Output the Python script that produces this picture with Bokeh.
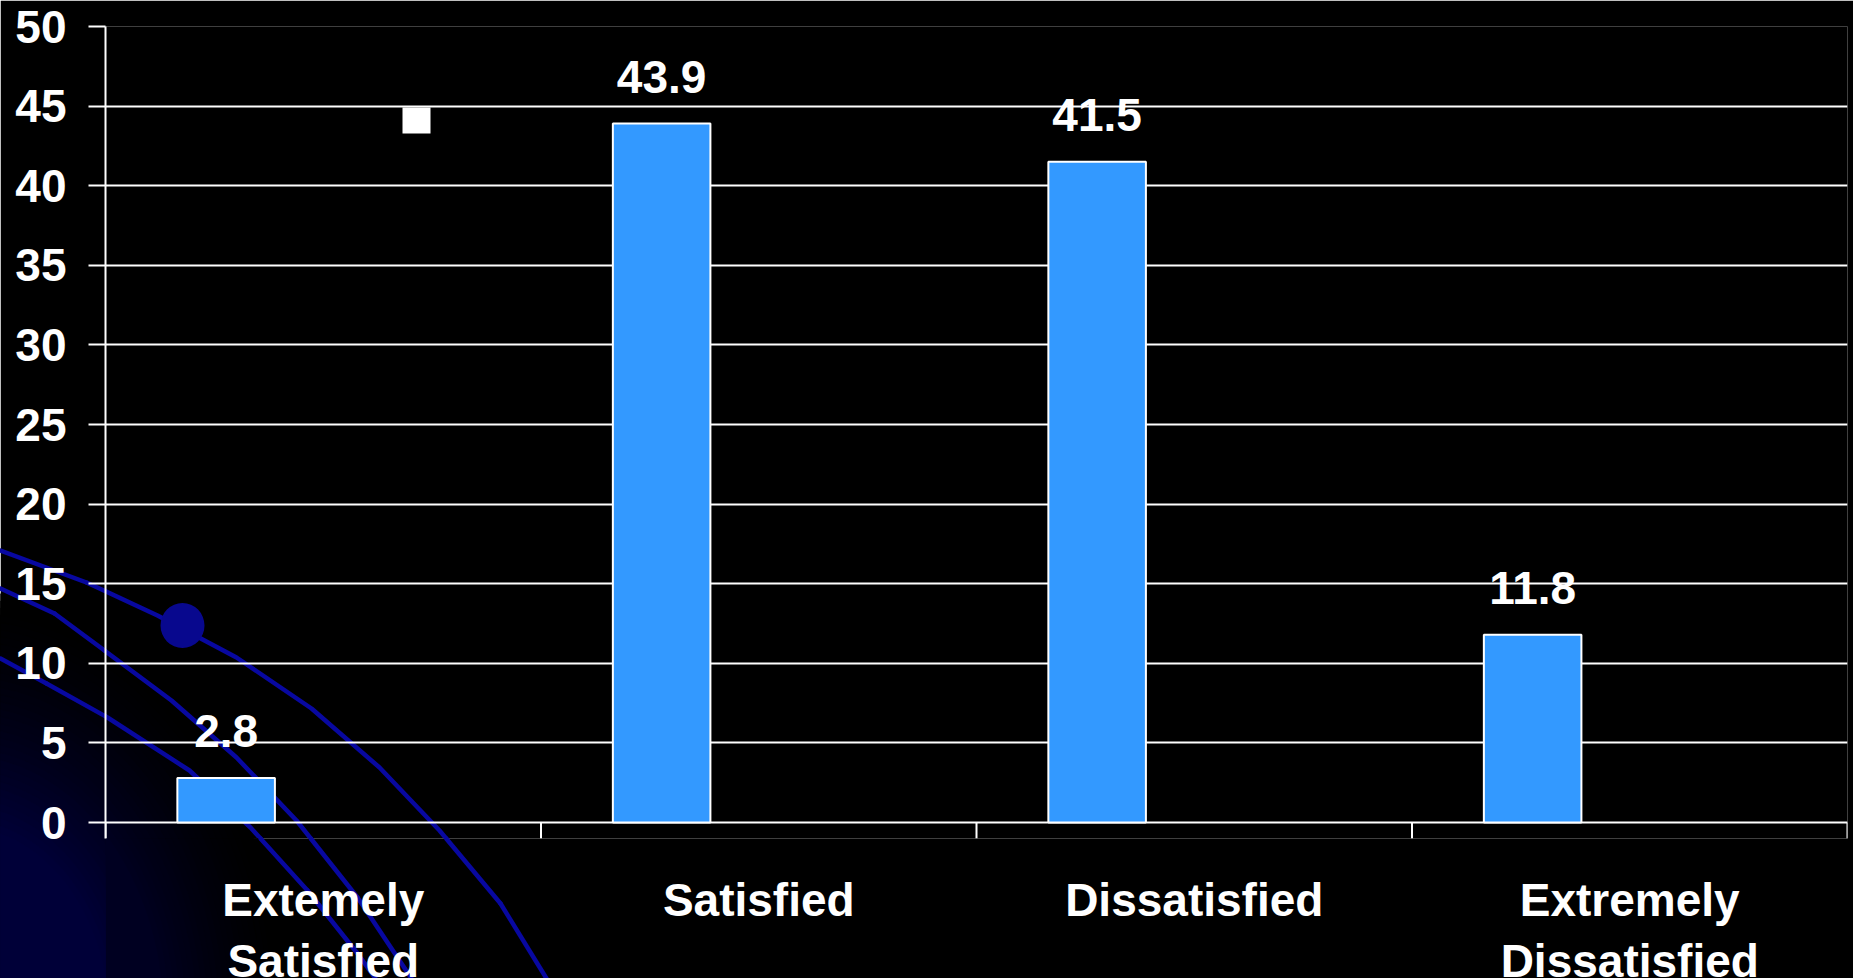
import numpy as np
from bokeh.plotting import figure
from bokeh.models import (ColumnDataSource, FactorRange, Range1d, FixedTicker,
                          BoxAnnotation)
from bokeh.transform import dodge
from bokeh.core.properties import value
from bokeh.embed import file_html
from bokeh.resources import INLINE

# Survey results (percent of respondents)
categories = ["Extemely\nSatisfied", "Satisfied", "Dissatisfied", "Extremely\nDissatisfied"]
percent = [2.8, 43.9, 41.5, 11.8]
y_ticks = [0, 5, 10, 15, 20, 25, 30, 35, 40, 45, 50]

W, H = 1853, 978
LEFT, RIGHT, TOP, BOTTOM = 105, 6, 26, 140          # borders around the plot frame
FONT = "Liberation Sans"
WHITE = "#ffffff"
BAR_BLUE = "#3399ff"
Y_MIN = -1.0

src = ColumnDataSource(dict(cat=categories, value=percent,
                            label=[f"{v:.1f}" for v in percent]))

p = figure(x_range=FactorRange(factors=categories, range_padding=0),
           y_range=Range1d(Y_MIN, 50),
           width=W, height=H,
           min_border_left=LEFT, min_border_right=RIGHT,
           min_border_top=TOP, min_border_bottom=BOTTOM,
           output_backend="svg", toolbar_location=None,
           background_fill_color="black", border_fill_color="black",
           outline_line_color=None)

# pixel coordinates for the slide ornament: y through a pixel range (pointing down),
# x converted to the synthetic coordinate of the categorical axis
FX0, FX1, FY0, FY1 = LEFT, W - RIGHT, TOP, H - BOTTOM
p.extra_y_ranges = {"px": Range1d(FY1, FY0)}


def sx(px):
    return [(v - FX0) / (FX1 - FX0) * len(categories) for v in px]


def clip_polygon(pts, x0, x1, y0, y1):
    """Sutherland-Hodgman clip of a polygon to an axis-aligned box."""
    def cut(pts, inside, inter):
        out = []
        for i in range(len(pts)):
            cur, prev = pts[i], pts[i - 1]
            if inside(cur):
                if not inside(prev):
                    out.append(inter(prev, cur))
                out.append(cur)
            elif inside(prev):
                out.append(inter(prev, cur))
        return out

    def at_x(xc):
        return lambda a, b: (xc, a[1] + (b[1] - a[1]) * (xc - a[0]) / (b[0] - a[0]))

    def at_y(yc):
        return lambda a, b: (a[0] + (b[0] - a[0]) * (yc - a[1]) / (b[1] - a[1]), yc)

    for inside, inter in ((lambda q: q[0] >= x0, at_x(x0)), (lambda q: q[0] <= x1, at_x(x1)),
                          (lambda q: q[1] >= y0, at_y(y0)), (lambda q: q[1] <= y1, at_y(y1))):
        if not pts:
            break
        pts = cut(pts, inside, inter)
    return pts


def clip_segment(a, b, x0, x1, y0, y1):
    """Liang-Barsky clip of a segment to an axis-aligned box."""
    dx, dy = b[0] - a[0], b[1] - a[1]
    t0, t1 = 0.0, 1.0
    for pp, qq in ((-dx, a[0] - x0), (dx, x1 - a[0]), (-dy, a[1] - y0), (dy, y1 - a[1])):
        if pp == 0:
            if qq < 0:
                return None
        else:
            t = qq / pp
            if pp < 0:
                t0 = max(t0, t)
            else:
                t1 = min(t1, t)
    if t0 >= t1:
        return None
    return (a[0] + t0 * dx, a[1] + t0 * dy), (a[0] + t1 * dx, a[1] + t1 * dy)


# regions of the canvas outside the frame (left strip and bottom strip)
outside = [(0, FX0, 0, H), (FX0, W, FY1, H)]

# ---- slide ornament: navy glow in the bottom-left corner ----
steps = np.linspace(1.0, 0.02, 60)
t = np.linspace(0, 2 * np.pi, 120, endpoint=False)
glow_polys, glow_cols = [], []
for s in steps:
    glow_polys.append(list(zip(-40 + 330 * s * np.cos(t), 1020 + 430 * s * np.sin(t))))
    glow_cols.append("#%02x%02x%02x" % (0, 0, int(140 * (1 - s) ** 1.5)))

p.patches(xs=[sx([q[0] for q in g]) for g in glow_polys],
          ys=[[q[1] for q in g] for g in glow_polys],
          fill_color=glow_cols, line_color=None, y_range_name="px", level="image")
out_xs, out_ys, out_cols = [], [], []
for g, c in zip(glow_polys, glow_cols):
    for box in outside:
        piece = clip_polygon(g, *box)
        if len(piece) >= 3:
            out_xs.append(sx([q[0] for q in piece]))
            out_ys.append([q[1] for q in piece])
            out_cols.append(c)
p.patches(xs=out_xs, ys=out_ys, fill_color=out_cols, line_color=out_cols, line_width=0.5,
          y_range_name="px", level="guide")

# ---- slide ornament: sweeping arcs and a dot ----
arc_xs = [
    [0, 86, 157, 236, 311, 379, 439, 500, 546],
    [0, 54, 104, 171, 236, 296, 357, 411],
    [0, 46, 107, 189, 250, 307, 357, 375],
]
arc_ys = [
    [550, 582, 615, 657, 708, 767, 830, 903, 978],
    [588, 613, 650, 700, 757, 820, 897, 978],
    [658, 683, 717, 770, 827, 890, 953, 978],
]
ARC_BLUE = "#0808a0"
p.multi_line(xs=[sx(a) for a in arc_xs], ys=arc_ys, line_color=ARC_BLUE, line_width=4.5,
             line_join="round", y_range_name="px", level="image")
seg_xs, seg_ys = [], []
for xs_, ys_ in zip(arc_xs, arc_ys):
    pts = list(zip(xs_, ys_))
    for a, b in zip(pts[:-1], pts[1:]):
        for box in outside:
            piece = clip_segment(a, b, *box)
            if piece:
                seg_xs.append(sx([piece[0][0], piece[1][0]]))
                seg_ys.append([piece[0][1], piece[1][1]])
p.multi_line(xs=seg_xs, ys=seg_ys, line_color=ARC_BLUE, line_width=4.5, line_cap="round",
             y_range_name="px", level="guide")
dot_w = 44 / (FX1 - FX0) * len(categories)
p.ellipse(x=sx([182]), y=[625], width=[dot_w], height=[45], fill_color="#08088e",
          line_color=None, y_range_name="px", level="image")

# small white key marker
p.add_layout(BoxAnnotation(left=402, right=430, top=107, bottom=133,
                           left_units="canvas", right_units="canvas",
                           top_units="canvas", bottom_units="canvas",
                           fill_color=WHITE, fill_alpha=1, line_color=None))

# ---- bars and value labels ----
BAR_W = 0.224
BAR_SHIFT = -0.223
p.vbar(x=dodge("cat", BAR_SHIFT, range=p.x_range), top="value", width=BAR_W, bottom=0,
       source=src, fill_color=BAR_BLUE, line_color=WHITE, line_width=2)
p.text(x=dodge("cat", BAR_SHIFT, range=p.x_range), y="value", text="label", source=src,
       text_align="center", text_baseline="alphabetic", y_offset=-47,
       text_font=value(FONT), text_font_style="bold", text_font_size="46px",
       text_color=WHITE)

# category boundary ticks hanging below the zero line
edge_src = ColumnDataSource(dict(cat=categories, y0=[0] * len(categories),
                                 y1=[Y_MIN] * len(categories)))
last_src = ColumnDataSource(dict(cat=categories[-1:], y0=[0], y1=[Y_MIN]))
for s_, off in ((edge_src, -0.5), (last_src, 0.5)):
    p.segment(x0=dodge("cat", off, range=p.x_range), y0="y0",
              x1=dodge("cat", off, range=p.x_range), y1="y1",
              source=s_, line_color=WHITE, line_width=2)

# ---- axes and grid ----
p.xgrid.grid_line_color = None
p.ygrid.ticker = FixedTicker(ticks=y_ticks)
p.ygrid.grid_line_color = WHITE
p.ygrid.grid_line_width = 2

ya = p.yaxis[0]
ya.level = "overlay"
ya.ticker = FixedTicker(ticks=y_ticks)
ya.axis_line_color = WHITE
ya.axis_line_width = 2
ya.major_tick_line_color = WHITE
ya.major_tick_line_width = 2
ya.major_tick_out = 17
ya.major_tick_in = 0
ya.minor_tick_line_color = None
ya.major_label_standoff = 22
ya.major_label_text_font = FONT
ya.major_label_text_font_style = "bold"
ya.major_label_text_font_size = "46px"
ya.major_label_text_color = WHITE

# category names under each group, two lines where needed
p.xaxis.visible = False
p.text(x="cat", y=FY1 + 35, text="cat", source=src, y_range_name="px",
       text_align="center", text_baseline="top",
       text_font=value(FONT), text_font_style="bold", text_font_size="46px",
       text_line_height=1.185, text_color=WHITE, level="annotation")

open("out.html", "w").write(file_html(p, INLINE))
